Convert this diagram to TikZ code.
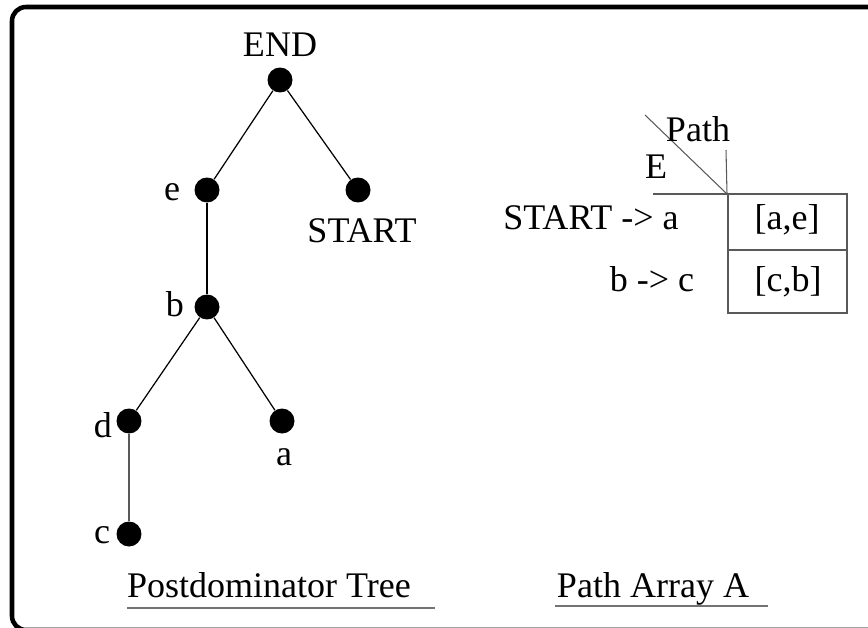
\documentclass[tikz,border=0pt]{standalone}
\usepackage{fontspec}
\setmainfont{Liberation Serif}
\definecolor{rulecol}{gray}{0.35}
\definecolor{undercol}{gray}{0.45}
\tikzset{
  vert/.style={circle,fill=black,inner sep=0pt,minimum size=0.5cm},
  lab/.style={font=\fontsize{20.5}{24}\selectfont,anchor=base,inner sep=0pt},
  tedge/.style={line width=0.7pt},
  tab/.style={rulecol,line width=0.6pt},
  frame/.style={line width=2.6pt,rounded corners=0.28cm},
}
\begin{document}
\begin{tikzpicture}[x=0.02cm,y=-0.02cm]
  \useasboundingbox (0,0) rectangle (868,628);
  \clip (0,0) rectangle (868,628);
  \draw[frame] (12,7) rectangle (900,630);
  % postdominator tree
  \node[vert] (END) at (280,80) {};
  \node[vert] (e) at (207,190) {};
  \node[vert] (START) at (358,190) {};
  \node[vert] (b) at (207,307) {};
  \node[vert] (d) at (129,421) {};
  \node[vert] (a) at (282,421) {};
  \node[vert] (c) at (129,534) {};
  \draw[tedge] (END) -- (e);
  \draw[tedge] (END) -- (START);
  \draw[tedge] (e) -- (b);
  \draw[tedge] (b) -- (d);
  \draw[tedge] (b) -- (a);
  \draw[tedge,rulecol] (d) -- (c);
  \node[lab] (lEND) at (280,57) {END};
  \node[lab] (le) at (172,200) {e};
  \node[lab] (lSTART) at (362,242) {START};
  \node[lab] (lb) at (175,316) {b};
  \node[lab] (ld) at (103,437) {d};
  \node[lab] (la) at (284,465) {a};
  \node[lab] (lc) at (102,543) {c};
  % path array
  \coordinate (corner) at (727,194);
  \draw[tab] (645,115) -- (corner);
  \draw[tab] (726,150) -- (corner);
  \draw[tab] (653,194) -- (847,194) -- (847,313) -- (728,313) -- (728,194);
  \draw[tab] (728,250) -- (847,250);
  \node[lab] (lPath) at (698,142) {Path};
  \node[lab] (lE) at (656,178) {E};
  \node[lab] (row1) at (591,230) {START -> a};
  \node[lab] (row2) at (652,291) {b -> c};
  \node[lab] (cell1) at (787,230) {[a,e]};
  \node[lab] (cell2) at (788,291) {[c,b]};
  % captions
  \node[lab] (cap1) at (269,597) {Postdominator Tree};
  \node[lab] (cap2) at (653,597) {Path Array A};
  \draw[undercol,line width=0.8pt] (127,608) -- (435,608);
  \draw[undercol,line width=0.8pt] (555,606) -- (768,606);
\end{tikzpicture}
\end{document}
